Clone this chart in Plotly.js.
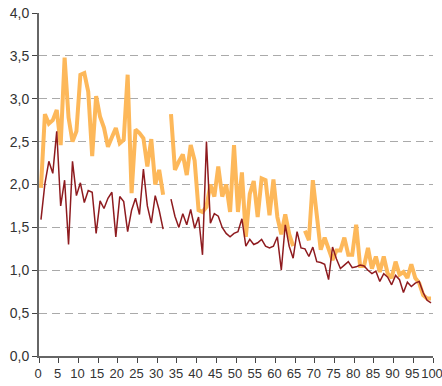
<!DOCTYPE html>
<html>
<head>
<meta charset="utf-8">
<script src="https://cdn.plot.ly/plotly-3.0.1.min.js"></script>
<style>
  html, body { margin: 0; padding: 0; background: #fff; }
  #chart { width: 442px; height: 386px; }
</style>
</head>
<body>
<div id="chart"></div>
<script>
// Categories 1..100 (drawn centred between axis ticks)
const categories = Array.from({length: 100}, (_, i) => i + 1);

// Orange series (thick line)
const seriesOrange = [
  1.96, 2.82, 2.71, 2.75, 2.87, 2.46, 3.48, 2.78, 2.50, 2.62,
  3.28, 3.30, 3.08, 2.33, 3.03, 2.79, 2.66, 2.44, 2.55, 2.66,
  2.48, 2.52, 3.28, 1.90, 2.64, 2.60, 2.54, 2.21, 2.53, 2.00,
  2.17, 1.88, null, 2.82, 2.17, 2.27, 2.35, 2.11, 2.46, 2.28,
  1.70, 1.68, 1.74, 2.00, 1.86, 2.21, 1.86, 2.00, 1.68, 2.46,
  1.68, 2.14, 1.39, 1.89, 2.04, 1.62, 2.07, 2.05, 1.64, 2.06,
  1.62, 1.42, 1.65, 1.42, 1.28, null, null, 1.46, 1.35, 2.05,
  1.60, 1.24, 1.38, 1.26, 1.12, 1.23, 1.23, 1.38, 1.18, 1.18,
  1.53, 1.05, 1.05, 1.26, 1.02, 1.16, 0.98, 1.16, 0.96, 0.91,
  1.10, 0.95, 0.98, 0.91, 1.07, 0.91, 0.85, 0.71, 0.67, 0.67
];

// Dark red series (thin line)
const seriesRed = [
  1.59, 2.01, 2.27, 2.13, 2.62, 1.75, 2.05, 1.30, 2.27, 1.87,
  2.02, 1.79, 1.93, 1.91, 1.43, 1.81, 1.72, 1.84, 1.91, 1.39,
  1.86, 1.80, 1.45, 1.70, 1.84, 1.65, 2.18, 1.75, 1.55, 1.87,
  1.70, 1.48, null, 1.83, 1.63, 1.50, 1.66, 1.53, 1.71, 1.49,
  1.62, 1.18, 2.50, 1.55, 1.66, 1.63, 1.50, 1.43, 1.39, 1.43,
  1.45, 1.60, 1.28, 1.36, 1.30, 1.32, 1.36, 1.28, 1.26, 1.28,
  1.39, 1.00, 1.53, 1.28, 1.14, 1.45, 1.26, 1.25, 1.16, 1.27,
  1.10, 1.09, 1.07, 0.89, 1.27, 1.13, 1.02, 1.06, 1.10, 1.03,
  1.04, 1.06, 1.05, 1.00, 0.96, 0.99, 0.87, 0.96, 0.92, 0.83,
  0.94, 0.89, 0.74, 0.86, 0.81, 0.85, 0.87, 0.74, 0.65, 0.62
];

const xTicks = [0, 5, 10, 15, 20, 25, 30, 35, 40, 45, 50, 55, 60, 65, 70, 75, 80, 85, 90, 95, 100];
const yTicks = [0, 0.5, 1.0, 1.5, 2.0, 2.5, 3.0, 3.5, 4.0];

const xPos = categories.map(c => c - 0.5);

const traces = [
  {
    x: xPos, y: seriesOrange, type: 'scatter', mode: 'lines',
    line: {color: '#FDB85A', width: 4},
    connectgaps: false, hoverinfo: 'skip'
  },
  {
    x: xPos, y: seriesRed, type: 'scatter', mode: 'lines',
    line: {color: '#8E1B1F', width: 1.5},
    connectgaps: false, hoverinfo: 'skip'
  }
];

const layout = {
  width: 442, height: 386,
  margin: {l: 39, r: 9, t: 13, b: 30},
  paper_bgcolor: '#fff', plot_bgcolor: '#fff',
  showlegend: false,
  separators: ',.',
  font: {family: 'Liberation Sans, Arial, sans-serif', size: 13, color: '#333'},
  xaxis: {
    range: [0, 100], tickvals: xTicks, ticktext: xTicks.map(String),
    tickangle: 0, ticklabelshift: -1,
    showgrid: false, zeroline: false,
    showline: true, linecolor: '#666', linewidth: 1.5,
    ticks: 'outside', ticklen: 5, tickcolor: '#444', tickwidth: 1,
    ticklabeloverflow: 'allow',
    tickfont: {size: 13, color: '#333'}, fixedrange: true
  },
  yaxis: {
    range: [0, 4.0], tickvals: yTicks, tickformat: '.1f',
    showgrid: true, gridcolor: '#aaaaaa', gridwidth: 1, griddash: '8px,5px',
    zeroline: false,
    showline: true, linecolor: '#666', linewidth: 2,
    ticks: 'outside', ticklen: 5, tickcolor: '#444', tickwidth: 1,
    ticklabeloverflow: 'allow',
    tickfont: {size: 14, color: '#333'}, fixedrange: true
  }
};

Plotly.newPlot('chart', traces, layout, {staticPlot: true, displayModeBar: false});
</script>
</body>
</html>
